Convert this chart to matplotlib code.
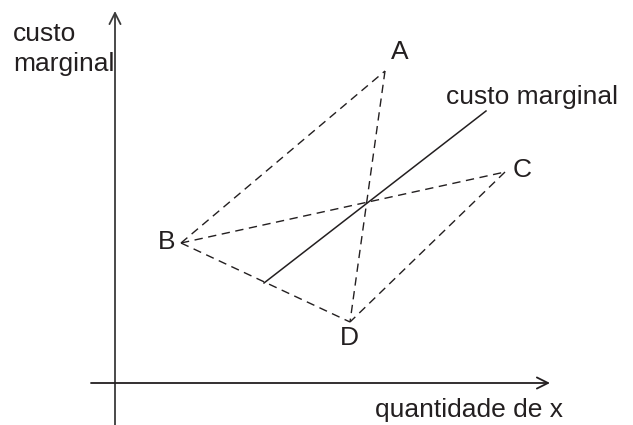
import matplotlib
matplotlib.use("Agg")
import matplotlib.pyplot as plt

# Diagram coordinates (pixel-like space, y downward)
point_names = ["A", "B", "C", "D"]
point_x = [385, 181, 505, 350]
point_y = [71, 243, 172, 322]
label_x = [400, 167, 522, 349]
label_y = [52, 242, 170, 338]
dashed_pairs = [("B", "A"), ("A", "D"), ("B", "C"), ("C", "D"), ("B", "D")]
solid_x = [264, 486]
solid_y = [283, 111]
line_label = "custo marginal"
y_axis_label = "custo\nmarginal"
x_axis_label = "quantidade de x"

plt.rcParams['font.family'] = ['Liberation Sans', 'DejaVu Sans']
fig = plt.figure(figsize=(6.33, 4.25), dpi=100)
ax = fig.add_axes([0, 0, 1, 1])
ax.set_xlim(0, 633)
ax.set_ylim(425, 0)
ax.axis('off')

ink = '#231f20'
pts = {n: (x, y) for n, x, y in zip(point_names, point_x, point_y)}
for a, b in dashed_pairs:
    ax.plot([pts[a][0], pts[b][0]], [pts[a][1], pts[b][1]], color=ink,
            lw=1.0, dashes=(6, 4))
ax.plot(solid_x, solid_y, color=ink, lw=1.1)

fs = 19
for n, lx, ly in zip(point_names, label_x, label_y):
    ax.text(lx, ly, n, fontsize=fs, ha='center', va='center', color=ink)

ax.text(446, 97, line_label, fontsize=fs, ha='left', va='center', color=ink)
ax.text(13, 49, y_axis_label, fontsize=fs, ha='left', va='center', color=ink,
        linespacing=1.3)
ax.text(375, 410, x_axis_label, fontsize=fs, ha='left', va='center', color=ink)

# axes with arrows
ax.annotate('', xy=(115, 11), xytext=(115, 426),
            arrowprops=dict(arrowstyle='->', color='#3a3a3a', lw=1.3,
                            mutation_scale=20, shrinkA=0, shrinkB=0))
ax.annotate('', xy=(550, 383), xytext=(91, 383),
            arrowprops=dict(arrowstyle='->', color=ink, lw=1.3,
                            mutation_scale=20, shrinkA=0, shrinkB=0))

fig.savefig('out.png', dpi=100)
